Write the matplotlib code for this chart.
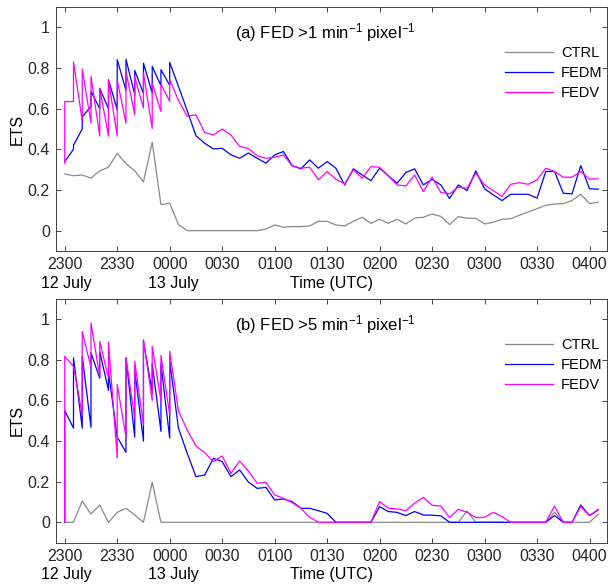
import numpy as np
import matplotlib
matplotlib.use("Agg")
import matplotlib.pyplot as plt
from matplotlib.transforms import blended_transform_factory

plt.rcParams['font.family'] = ['Liberation Sans', 'DejaVu Sans']
plt.rcParams['mathtext.fontset'] = 'custom'
plt.rcParams['mathtext.rm'] = 'Liberation Sans'
plt.rcParams['mathtext.it'] = 'Liberation Sans:italic'

# minutes after 2300 UTC on 12 July
t_ctrl = np.arange(0, 310, 5)
t_cycle = np.arange(0, 65, 5)      # cycling: value before / after each update
t_free = np.arange(65, 310, 5)

tick_minutes = [0, 30, 60, 90, 120, 150, 180, 210, 240, 270, 300]
tick_labels = ['2300', '2330', '0000', '0030', '0100', '0130',
               '0200', '0230', '0300', '0330', '0400']

# ---- panel (a): FED > 1 ----
ctrl_a = [0.279, 0.27, 0.274, 0.258, 0.294, 0.312, 0.38, 0.33, 0.294, 0.24,
          0.435, 0.128, 0.135, 0.03, 0, 0, 0, 0, 0, 0, 0, 0, 0, 0.008, 0.028,
          0.017, 0.02, 0.02, 0.023, 0.046, 0.046, 0.028, 0.023, 0.046, 0.066,
          0.036, 0.056, 0.036, 0.056, 0.033, 0.062, 0.066, 0.082, 0.07, 0.03,
          0.069, 0.061, 0.061, 0.033, 0.041, 0.056, 0.059, 0.076, 0.092, 0.108,
          0.125, 0.131, 0.133, 0.148, 0.179, 0.133, 0.14]
fedm_a_pre = [0.34, 0.40, 0.50, 0.61, 0.60, 0.60, 0.595, 0.69, 0.67, 0.675,
              0.677, 0.713, 0.715]
fedm_a_post = [0.34, 0.42, 0.56, 0.685, 0.70, 0.742, 0.841, 0.843, 0.788,
               0.824, 0.808, 0.792, 0.828]
fedm_a_free = [0.71, 0.59, 0.467, 0.43, 0.402, 0.405, 0.373, 0.356, 0.382,
               0.356, 0.332, 0.373, 0.389, 0.32, 0.304, 0.348, 0.307, 0.34,
               0.307, 0.225, 0.304, 0.274, 0.246, 0.307, 0.27, 0.233, 0.286,
               0.304, 0.225, 0.252, 0.225, 0.158, 0.225, 0.197, 0.294, 0.206,
               0.176, 0.148, 0.179, 0.179, 0.179, 0.16, 0.291, 0.291, 0.184,
               0.181, 0.32, 0.206, 0.204]
fedv_a_pre = [0.33, 0.635, 0.54, 0.529, 0.465, 0.465, 0.465, 0.528, 0.57,
              0.603, 0.502, 0.586, 0.636]
fedv_a_post = [0.635, 0.83, 0.795, 0.759, 0.70, 0.742, 0.742, 0.783, 0.757,
               0.775, 0.725, 0.72, 0.743]
fedv_a_free = [0.64, 0.563, 0.57, 0.483, 0.471, 0.5, 0.47, 0.414, 0.404,
               0.368, 0.356, 0.361, 0.373, 0.319, 0.307, 0.312, 0.25, 0.291,
               0.253, 0.23, 0.299, 0.258, 0.315, 0.312, 0.27, 0.225, 0.22,
               0.274, 0.192, 0.263, 0.188, 0.181, 0.214, 0.209, 0.283, 0.225,
               0.197, 0.168, 0.228, 0.236, 0.228, 0.25, 0.307, 0.291, 0.263,
               0.263, 0.291, 0.253, 0.255]

# ---- panel (b): FED > 5 ----
ctrl_b = [0, 0, 0.105, 0.041, 0.085, 0, 0.049, 0.069, 0.036, 0, 0.197, 0,
          0, 0, 0, 0, 0, 0, 0, 0, 0, 0, 0, 0, 0, 0, 0, 0, 0, 0, 0, 0, 0, 0,
          0, 0, 0, 0, 0, 0, 0, 0, 0, 0, 0, 0, 0.056, 0, 0, 0, 0, 0, 0, 0, 0,
          0, 0.05, 0, 0, 0, 0, 0.04]
fedm_b_pre = [0.0, 0.464, 0.464, 0.468, 0.71, 0.65, 0.42, 0.345, 0.42, 0.40,
              0.64, 0.448, 0.415]
fedm_b_post = [0.55, 0.81, 0.818, 0.834, 0.842, 0.743, 0.42, 0.81, 0.75,
               0.891, 0.78, 0.78, 0.793]
fedm_b_free = [0.464, 0.34, 0.225, 0.233, 0.315, 0.299, 0.225, 0.258, 0.198,
               0.167, 0.172, 0.11, 0.115, 0.102, 0.069, 0.069, 0.057, 0.044,
               0, 0, 0, 0, 0, 0.077, 0.053, 0.049, 0.033, 0.053, 0.036, 0.035,
               0.032, 0, 0, 0, 0, 0, 0, 0, 0, 0, 0, 0, 0, 0.033, 0, 0, 0.085,
               0.033, 0.061]
fedv_b_pre = [0.0, 0.768, 0.53, 0.763, 0.72, 0.711, 0.317, 0.42, 0.513, 0.48,
              0.60, 0.60, 0.53]
fedv_b_post = [0.817, 0.768, 0.94, 0.982, 0.891, 0.888, 0.679, 0.81, 0.793,
               0.90, 0.867, 0.822, 0.842]
fedv_b_free = [0.548, 0.455, 0.376, 0.343, 0.299, 0.327, 0.241, 0.302, 0.252,
               0.192, 0.197, 0.135, 0.118, 0.097, 0.069, 0.025, 0, 0, 0, 0,
               0, 0, 0, 0.102, 0.069, 0.066, 0.057, 0.094, 0.123, 0.084, 0.08,
               0.023, 0.064, 0.049, 0.023, 0.025, 0.049, 0.028, 0, 0, 0, 0, 0,
               0.08, 0, 0, 0.077, 0.033, 0.064]


def cycled(pre, post, free):
    # each update time gets two points (before and after), then free forecast
    tt = np.concatenate([np.repeat(t_cycle, 2), t_free])
    vv = np.concatenate([np.column_stack([pre, post]).ravel(), free])
    return tt, vv


def draw(ax, ctrl, m, v, title):
    ax.plot(t_ctrl, ctrl, color='#8a8a8a', lw=0.9, label='CTRL')
    ax.plot(*cycled(*m), color='#0000ff', lw=0.9, label='FEDM')
    ax.plot(*cycled(*v), color='#ff00ff', lw=0.9, label='FEDV')
    ax.set_xlim(-5, 310)
    ax.set_ylim(-0.1, 1.1)
    ax.set_xticks(tick_minutes)
    ax.set_xticklabels(tick_labels)
    ax.set_yticks([0, 0.2, 0.4, 0.6, 0.8, 1])
    ax.set_yticklabels(['0', '0.2', '0.4', '0.6', '0.8', '1'])
    ax.tick_params(direction='in', top=True, right=True, length=3.5,
                   width=0.6, labelsize=11.5, pad=4.5, colors='#262626')
    for s in ax.spines.values():
        s.set_linewidth(0.6)
        s.set_color('#262626')
    ax.set_ylabel('ETS', fontsize=11.5, labelpad=2)
    ax.text(0.488, 0.895, title, transform=ax.transAxes, ha='center',
            va='center', fontsize=12)
    tr = blended_transform_factory(ax.transData, ax.transAxes)
    ax.text(1, -0.132, '12 July', transform=tr, ha='center', va='center',
            fontsize=11.5)
    ax.text(62, -0.132, '13 July', transform=tr, ha='center', va='center',
            fontsize=11.5)
    ax.text(0.5, -0.132, 'Time (UTC)', transform=ax.transAxes, ha='center',
            va='center', fontsize=11.5)
    ax.legend(loc='upper left', bbox_to_anchor=(0.797, 0.88), frameon=False,
              fontsize=10.5, handlelength=3.3, labelspacing=0.4,
              handletextpad=0.5, borderpad=0.2)


fig = plt.figure(figsize=(6.09, 5.84), dpi=100)
ax_a = fig.add_axes([56 / 609, (584 - 251) / 584, 551 / 609, 244 / 584])
ax_b = fig.add_axes([56 / 609, (584 - 542.6) / 584, 551 / 609, 243.6 / 584])

draw(ax_a, ctrl_a, (fedm_a_pre, fedm_a_post, fedm_a_free),
     (fedv_a_pre, fedv_a_post, fedv_a_free),
     r'(a) FED >1 min$^{-1}$ pixel$^{-1}$')
draw(ax_b, ctrl_b, (fedm_b_pre, fedm_b_post, fedm_b_free),
     (fedv_b_pre, fedv_b_post, fedv_b_free),
     r'(b) FED >5 min$^{-1}$ pixel$^{-1}$')

fig.savefig('out.png', dpi=100)
